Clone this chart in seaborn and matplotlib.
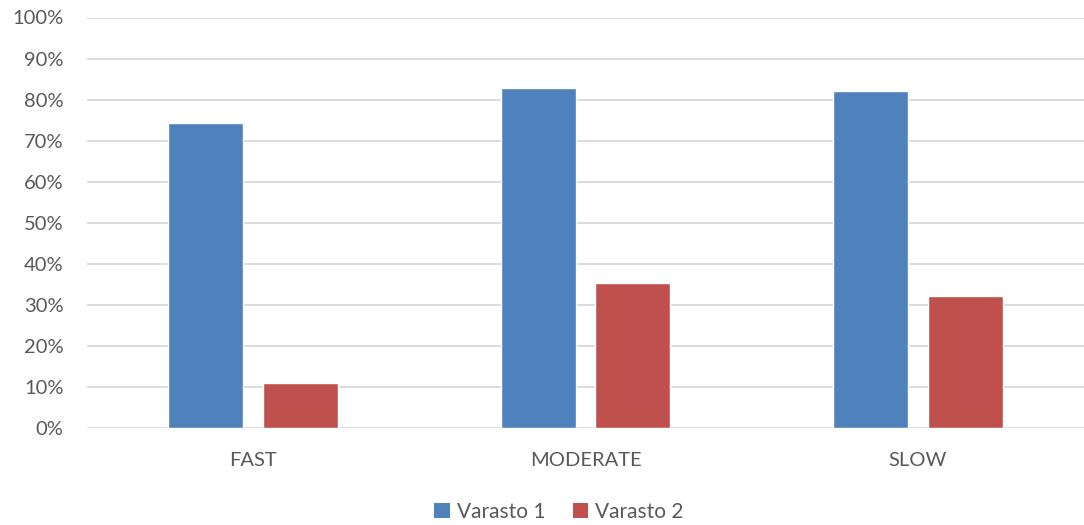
import matplotlib
matplotlib.use("Agg")
import matplotlib.pyplot as plt
import seaborn as sns
import pandas as pd
from matplotlib.patches import Patch
from matplotlib.ticker import FuncFormatter, MultipleLocator

categories = ["FAST", "MODERATE", "SLOW"]
series_names = ["Varasto 1", "Varasto 2"]
varasto_1 = [74.2, 82.8, 82.2]
varasto_2 = [11.0, 35.3, 32.3]
colors = ["#4F81BD", "#C0504D"]

df = pd.DataFrame({
    "category": categories * 2,
    "series": [series_names[0]] * 3 + [series_names[1]] * 3,
    "value": varasto_1 + varasto_2,
})

sns.set_theme(style="white")
plt.rcParams["font.family"] = ["Lato", "DejaVu Sans"]

fig = plt.figure(figsize=(10.84, 5.25), dpi=100)
ax = fig.add_axes([87 / 1084, 1 - 428.3 / 525, 997 / 1084, (428.3 - 17.5) / 525])

sns.barplot(data=df, x="category", y="value", hue="series", order=categories,
            hue_order=series_names, palette=colors, width=0.57, gap=0.21,
            saturation=1, ax=ax, legend=False, zorder=3)

ax.set_ylim(0, 100)
ax.set_xlim(-0.5, 2.5)
ax.yaxis.set_major_locator(MultipleLocator(10))
ax.yaxis.set_major_formatter(FuncFormatter(lambda v, _: f"{v:.0f}%"))
ax.grid(axis="y", color="#D9D9D9", linewidth=1.3, zorder=0)
ax.set_axisbelow(True)
for s in ax.spines.values():
    s.set_visible(False)
ax.set_xlabel("")
ax.set_ylabel("")
ax.tick_params(axis="both", length=0, colors="#595959", labelsize=14.5)
ax.tick_params(axis="y", pad=17)
ax.tick_params(axis="x", pad=17)

handles = [Patch(facecolor=c, edgecolor="none") for c in colors]
fig.legend(handles, series_names, loc="center", bbox_to_anchor=(559 / 1084, 1 - 512 / 525),
           ncol=2, frameon=False, fontsize=15, handlelength=0.75, handleheight=0.75,
           handletextpad=0.35, columnspacing=1.3, labelcolor="#595959")

fig.savefig("out.png", dpi=100)
